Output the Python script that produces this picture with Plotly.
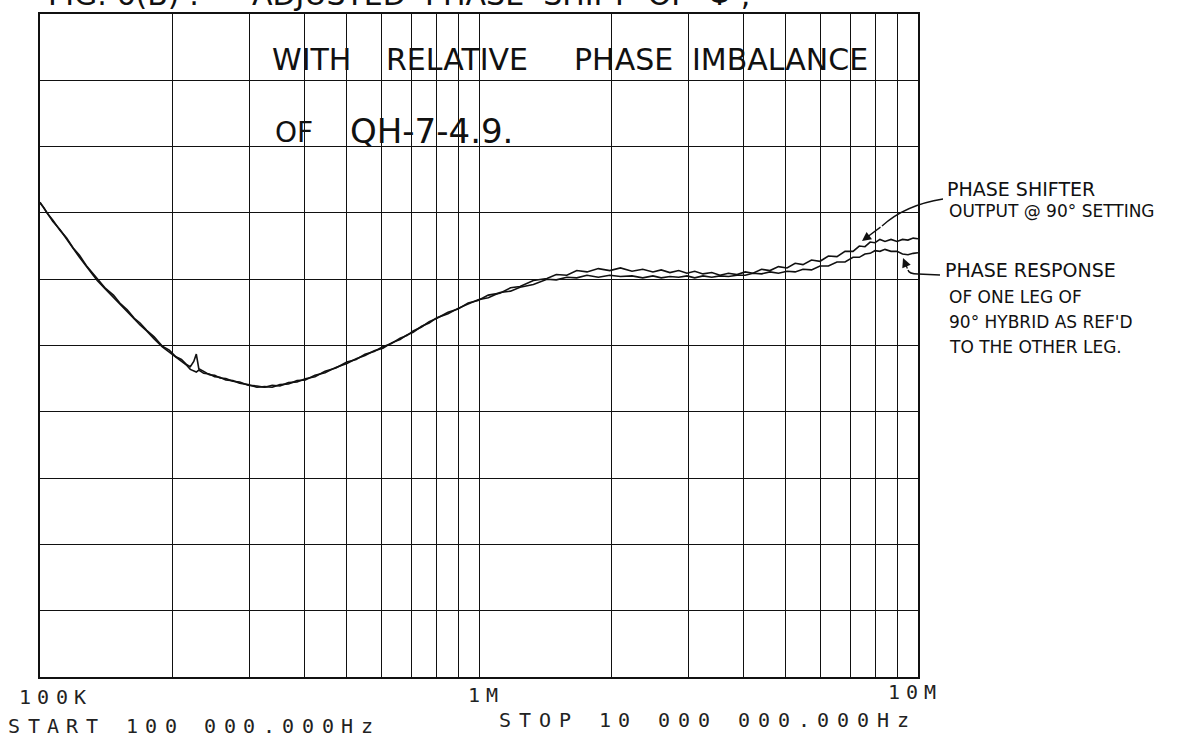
import plotly.graph_objects as go

# ---------------- data ----------------
freq_mhz = [
    0.100, 0.102, 0.104, 0.107, 0.111, 0.115, 0.119, 0.123, 0.128, 0.135,
    0.141, 0.147, 0.152, 0.158, 0.164, 0.169, 0.175, 0.182, 0.190, 0.197,
    0.204, 0.210, 0.216, 0.220, 0.224, 0.227, 0.230, 0.236, 0.243, 0.250,
    0.257, 0.265, 0.275, 0.285, 0.298, 0.312, 0.325, 0.338, 0.352, 0.368,
    0.385, 0.402, 0.423, 0.446, 0.472, 0.500, 0.525, 0.550, 0.577, 0.604,
    0.632, 0.661, 0.685, 0.708, 0.740, 0.770, 0.802, 0.850, 0.896, 0.945,
    0.995, 1.05, 1.116, 1.18, 1.24, 1.33, 1.428, 1.50, 1.585, 1.67,
    1.762, 1.87, 1.986, 2.10, 2.231, 2.36, 2.49, 2.60, 2.722, 2.85,
    2.977, 3.10, 3.238, 3.39, 3.54, 3.70, 3.87, 4.04, 4.209, 4.40,
    4.60, 4.81, 5.031, 5.25, 5.47, 5.72, 5.98, 6.25, 6.537, 6.82,
    7.111, 7.35, 7.572, 7.78, 7.979, 8.19, 8.41, 8.68, 8.958, 9.22,
    9.487, 9.75, 10.0,
]

# phase shifter output @ 90 deg setting (grid divisions from bottom)
shifter_out = [
    7.15, 7.08, 6.99, 6.89, 6.74, 6.62, 6.47, 6.36, 6.19, 6.01,
    5.86, 5.76, 5.64, 5.54, 5.41, 5.34, 5.23, 5.13, 4.99, 4.93,
    4.83, 4.79, 4.71, 4.68, 4.76, 4.87, 4.65, 4.61, 4.56, 4.55,
    4.51, 4.50, 4.46, 4.45, 4.40, 4.39, 4.37, 4.40, 4.39, 4.44,
    4.45, 4.50, 4.53, 4.61, 4.66, 4.75, 4.79, 4.87, 4.91, 4.98,
    5.03, 5.11, 5.15, 5.22, 5.28, 5.36, 5.41, 5.50, 5.55, 5.64,
    5.68, 5.76, 5.79, 5.87, 5.89, 5.98, 6.01, 6.07, 6.06, 6.13,
    6.11, 6.16, 6.13, 6.17, 6.12, 6.15, 6.11, 6.14, 6.10, 6.13,
    6.09, 6.12, 6.08, 6.10, 6.06, 6.09, 6.07, 6.11, 6.09, 6.15,
    6.13, 6.19, 6.17, 6.24, 6.22, 6.29, 6.27, 6.35, 6.34, 6.42,
    6.42, 6.50, 6.49, 6.56, 6.55, 6.60, 6.57, 6.60, 6.57, 6.60,
    6.59, 6.62, 6.61,
]

# phase response of one leg of 90 deg hybrid ref'd to the other leg
hybrid_leg = [
    7.16, 7.07, 6.98, 6.87, 6.75, 6.60, 6.46, 6.33, 6.18, 5.98,
    5.85, 5.73, 5.63, 5.51, 5.40, 5.31, 5.22, 5.10, 4.98, 4.90,
    4.82, 4.76, 4.70, 4.64, 4.62, 4.60, 4.63, 4.58, 4.57, 4.53,
    4.52, 4.48, 4.47, 4.43, 4.41, 4.37, 4.38, 4.37, 4.41, 4.42,
    4.47, 4.48, 4.55, 4.59, 4.67, 4.73, 4.80, 4.85, 4.92, 4.96,
    5.04, 5.09, 5.16, 5.20, 5.29, 5.34, 5.42, 5.48, 5.56, 5.62,
    5.69, 5.72, 5.80, 5.82, 5.88, 5.92, 6.00, 5.99, 6.03, 6.02,
    6.06, 6.03, 6.06, 6.04, 6.05, 6.02, 6.05, 6.02, 6.04, 6.03,
    6.05, 6.02, 6.05, 6.03, 6.05, 6.04, 6.06, 6.06, 6.09, 6.08,
    6.11, 6.09, 6.12, 6.11, 6.15, 6.14, 6.20, 6.20, 6.26, 6.26,
    6.33, 6.33, 6.38, 6.39, 6.43, 6.42, 6.45, 6.42, 6.42, 6.38,
    6.37, 6.39, 6.40,
]

grid_freqs_hz = [m * 10 ** e for e in (5, 6) for m in range(1, 10)] + [1e7]
decade_labels = ["100K", "1M", "10M"]
start_label = "START 100 000.000Hz"
stop_label = "STOP 10 000 000.000Hz"

freq_hz = [f * 1e6 for f in freq_mhz]

# ---------------- layout geometry ----------------
W, H = 1190, 741
L, R, T, B = 40, 918, 14, 677


def px(x):
    return (x - L) / (R - L)


def py(y):
    return (B - y) / (B - T)


fig = go.Figure()
for vals in (hybrid_leg, shifter_out):
    fig.add_trace(go.Scatter(x=freq_hz, y=vals, mode="lines",
                             line=dict(color="#111", width=1.6),
                             showlegend=False, hoverinfo="skip"))

annotations = []

PLOT_FONT = "DejaVu Sans Mono"


def plotter_text(s, x_first, y_c, pitch, size=20):
    for i, ch in enumerate(s):
        if ch == " ":
            continue
        annotations.append(dict(text=ch, x=px(x_first + i * pitch), y=py(y_c),
                                xref="paper", yref="paper", showarrow=False,
                                xanchor="center", yanchor="middle", borderpad=0,
                                font=dict(family=PLOT_FONT, size=size, color="#222")))


plotter_text(decade_labels[0], 25, 697, 18.3)
plotter_text(decade_labels[1], 474, 695, 18.0)
plotter_text(decade_labels[2], 894, 692, 18.0)
plotter_text(start_label, 14, 726, 19.6)
plotter_text(stop_label, 505, 720, 19.9)

HAND = "DejaVu Sans"


def hand(text, x, y, size, anchor="left", yanchor="middle"):
    annotations.append(dict(text=text, x=px(x), y=py(y), xref="paper", yref="paper",
                            showarrow=False, xanchor=anchor, yanchor=yanchor,
                            font=dict(family=HAND, size=size, color="#111")))


# title (cut off at the top of the page, as in the scan)
hand("FIG. 6(B) :", 46, 14, 30, yanchor="bottom")
hand("ADJUSTED  PHASE  SHIFT  OF  Φ ,", 250, 14, 30, yanchor="bottom")

# in-plot notes
hand("WITH", 270, 60, 30)
hand("RELATIVE", 384, 60, 30)
hand("PHASE", 572, 60, 30)
hand("IMBALANCE", 690, 60, 30)
hand("OF", 273, 132, 28)
hand("QH-7-4.9.", 348, 131, 34)

# right-side notes
hand("PHASE SHIFTER", 945, 189, 19)
hand("OUTPUT @ 90° SETTING", 947, 211, 17)
hand("PHASE RESPONSE", 943, 270, 19)
hand("OF ONE LEG OF", 947, 297, 17)
hand("90° HYBRID AS REF'D", 947, 322, 17)
hand("TO THE OTHER LEG.", 947, 347, 17)

# arrow heads (offsets in pixels)
annotations.append(dict(text="", x=px(862), y=py(241), ax=20, ay=-15,
                        xref="paper", yref="paper", axref="pixel", ayref="pixel",
                        showarrow=True, arrowhead=2, arrowsize=1.4, arrowwidth=1.3,
                        arrowcolor="#111"))
annotations.append(dict(text="", x=px(903), y=py(258), ax=5, ay=12,
                        xref="paper", yref="paper", axref="pixel", ayref="pixel",
                        showarrow=True, arrowhead=2, arrowsize=1.4, arrowwidth=1.3,
                        arrowcolor="#111"))

shapes = [
    dict(type="path", xref="paper", yref="paper",
         path=f"M {px(943)},{py(199)} Q {px(905)},{py(205)} {px(882)},{py(226)}",
         line=dict(color="#111", width=1.4)),
    dict(type="path", xref="paper", yref="paper",
         path=f"M {px(940)},{py(275)} L {px(918)},{py(274)} Q {px(909)},{py(274)} {px(908)},{py(270)}",
         line=dict(color="#111", width=1.4)),
]

fig.update_layout(
    width=W, height=H,
    margin=dict(l=L, r=W - R, t=T, b=H - B, pad=0),
    paper_bgcolor="white", plot_bgcolor="white",
    annotations=annotations, shapes=shapes,
    xaxis=dict(type="log", range=[5, 7], tickmode="array", tickvals=grid_freqs_hz,
               showticklabels=False, ticks="", showgrid=True, gridcolor="#111",
               gridwidth=1.3, zeroline=False, showline=True, linecolor="#111",
               linewidth=1.6, mirror=True),
    yaxis=dict(range=[0, 10], tickmode="linear", tick0=0, dtick=1,
               showticklabels=False, ticks="", showgrid=True, gridcolor="#111",
               gridwidth=1.3, zeroline=False, showline=True, linecolor="#111",
               linewidth=1.6, mirror=True),
)

fig.write_html("out.html", config={"displayModeBar": False},
               post_script="document.body.style.margin='0';document.body.style.overflow='hidden';")
